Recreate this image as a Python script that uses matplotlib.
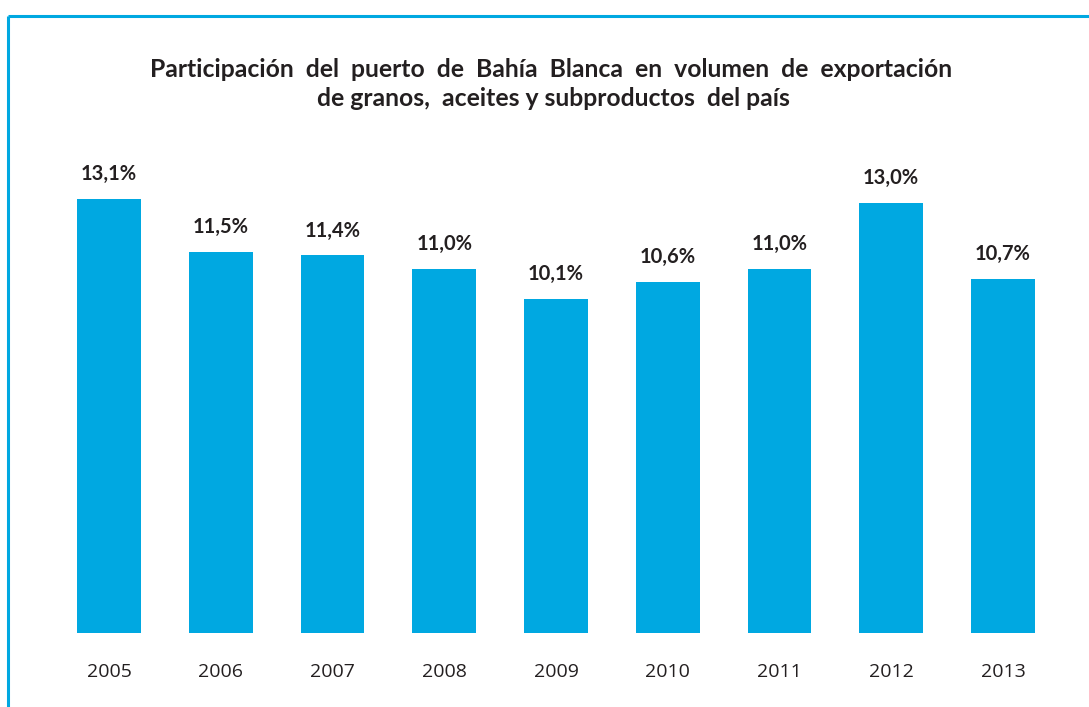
import matplotlib
matplotlib.use("Agg")
import matplotlib.pyplot as plt
from matplotlib.lines import Line2D

years = ["2005", "2006", "2007", "2008", "2009", "2010", "2011", "2012", "2013"]
shares = [13.1, 11.5, 11.4, 11.0, 10.1, 10.6, 11.0, 13.0, 10.7]
labels = ["13,1%", "11,5%", "11,4%", "11,0%", "10,1%", "10,6%", "11,0%", "13,0%", "10,7%"]

W, H = 1089, 707
fig = plt.figure(figsize=(W / 100, H / 100), dpi=100)
plt.rcParams['font.family'] = ['Lato', 'DejaVu Sans']

blue = '#00A8E1'
txt = '#231F20'

ax = fig.add_axes([53.1 / W, 1 - 633 / H, 1005.75 / W, 463.6 / H])
x = list(range(len(years)))
ax.bar(x, shares, width=0.57, color=blue)
ax.set_xlim(-0.5, len(years) - 0.5)
ax.set_ylim(0, 14)
for s in ax.spines.values():
    s.set_visible(False)
ax.set_yticks([])
ax.set_xticks(x)
ax.set_xticklabels(years, fontsize=14, color=txt, family=['Open Sans', 'DejaVu Sans'])
ax.tick_params(axis='x', length=0, pad=21.5)
for xi, v, lab in zip(x, shares, labels):
    ax.annotate(lab, (xi, v), xytext=(0, 13.7), textcoords='offset points',
                ha='center', va='baseline', fontsize=14.5, fontweight='bold', color=txt)

fig.text(551.5 / W, 1 - 77 / H, "Participación  del  puerto  de  Bahía  Blanca  en  volumen  de  exportación",
         ha='center', va='baseline', fontsize=17.8, fontweight='bold', color=txt)
fig.text(553 / W, 1 - 106 / H, "de granos,  aceites y subproductos  del país",
         ha='center', va='baseline', fontsize=17.8, fontweight='bold', color=txt)

fig.add_artist(Line2D([8 / W, 1], [1 - 16 / H, 1 - 16 / H], color=blue, lw=2.2,
                      transform=fig.transFigure, solid_capstyle='butt'))
fig.add_artist(Line2D([8 / W, 8 / W], [1 - 16 / H, 0], color=blue, lw=2.2,
                      transform=fig.transFigure, solid_capstyle='butt'))

fig.savefig("out.png", dpi=100)
